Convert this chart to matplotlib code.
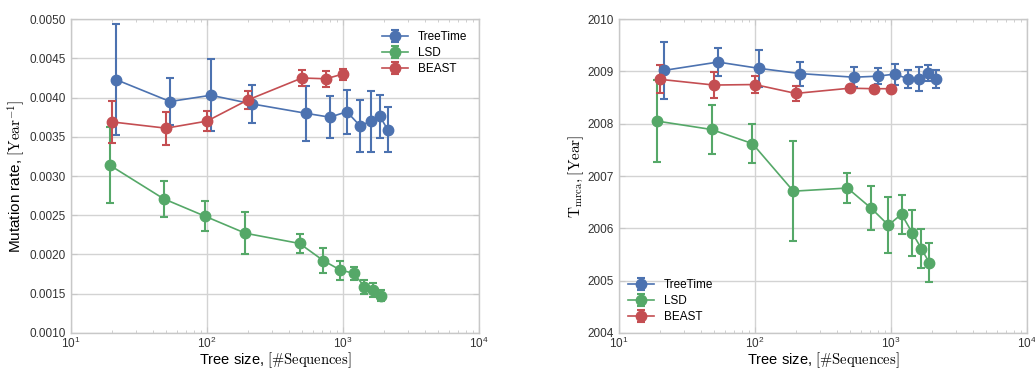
import numpy as np
import matplotlib
matplotlib.use("Agg")
import matplotlib.pyplot as plt
from matplotlib.ticker import FormatStrFormatter, LogLocator

plt.rcParams['font.family'] = ['Liberation Sans', 'DejaVu Sans']
plt.rcParams['mathtext.fontset'] = 'cm'

# tree sizes used in the benchmark
sizes_all = [20, 50, 100, 200, 500, 750, 1000, 1250, 1500, 1750, 2000]
sizes_beast = [20, 50, 100, 200, 500, 750, 1000]

# mutation rate estimates  (mean, std)
rate_treetime = [0.00423, 0.00395, 0.00403, 0.00392, 0.00380, 0.00375, 0.00382, 0.00364, 0.00370, 0.00376, 0.00359]
rate_treetime_err = [0.00071, 0.00030, 0.00046, 0.00024, 0.00035, 0.00027, 0.00028, 0.00033, 0.00039, 0.00027, 0.00029]
rate_lsd = [0.00314, 0.00271, 0.00249, 0.00227, 0.00214, 0.00192, 0.00180, 0.00176, 0.00159, 0.00155, 0.00147]
rate_lsd_err = [0.00048, 0.00023, 0.00019, 0.00027, 0.00012, 0.00016, 0.00012, 0.00008, 0.00009, 0.00009, 0.00007]
rate_beast = [0.00369, 0.00361, 0.00370, 0.00397, 0.00425, 0.00424, 0.00430]
rate_beast_err = [0.00027, 0.00021, 0.00013, 0.00012, 0.00010, 0.00010, 0.00007]

# root date estimates (mean, std)
tmrca_treetime = [2009.02, 2009.18, 2009.06, 2008.96, 2008.89, 2008.91, 2008.95, 2008.86, 2008.85, 2008.97, 2008.86]
tmrca_treetime_err = [0.54, 0.27, 0.35, 0.23, 0.19, 0.15, 0.20, 0.17, 0.23, 0.15, 0.17]
tmrca_lsd = [2008.05, 2007.89, 2007.62, 2006.71, 2006.77, 2006.38, 2006.06, 2006.27, 2005.91, 2005.61, 2005.34]
tmrca_lsd_err = [0.79, 0.47, 0.37, 0.96, 0.28, 0.42, 0.54, 0.37, 0.44, 0.37, 0.37]
tmrca_beast = [2008.85, 2008.74, 2008.75, 2008.58, 2008.68, 2008.67, 2008.67]
tmrca_beast_err = [0.27, 0.25, 0.17, 0.15, 0.05, 0.06, 0.05]

C_TT, C_LSD, C_BEAST = "#4C72B0", "#55A868", "#C44E52"
# small horizontal shift so the error bars don't overlap
SHIFT = {"TreeTime": 1.07, "LSD": 0.96, "BEAST": 1.0}


def draw(ax, series):
    for name, x, y, err, col in series:
        xs = np.array(x) * SHIFT[name]
        ax.errorbar(xs, y, yerr=err, fmt='-o', color=col, ecolor=col,
                    lw=1.2, ms=7.5, elinewidth=1.5, capsize=3, capthick=1.5,
                    label=name)
    ax.set_xscale('log')
    ax.set_xlim(10, 1e4)
    ax.xaxis.set_major_locator(LogLocator(base=10, numticks=10))
    ax.xaxis.set_minor_locator(LogLocator(base=10, subs=np.arange(2, 10), numticks=20))
    ax.grid(True, which='major', color='#d3d3d3', lw=1.0)
    ax.grid(False, which='minor')
    for s in ax.spines.values():
        s.set_color('#c8c8c8')
        s.set_linewidth(1.0)
    ax.tick_params(which='both', direction='in', top=True, right=True,
                   color='#c8c8c8', labelsize=8.5, labelcolor='#333333')
    ax.tick_params(which='major', length=4)
    ax.tick_params(which='minor', length=2)
    ax.tick_params(axis='x', pad=2)
    ax.set_xlabel(r"Tree size, $[\#\mathrm{Sequences}]$", fontsize=10.5, labelpad=0)


fig = plt.figure(figsize=(10.35, 3.69), dpi=100)
ax1 = fig.add_axes([0.0686, 0.098, 0.394, 0.850])
ax2 = fig.add_axes([0.598, 0.098, 0.394, 0.850])

draw(ax1, [
    ("TreeTime", sizes_all, rate_treetime, rate_treetime_err, C_TT),
    ("LSD", sizes_all, rate_lsd, rate_lsd_err, C_LSD),
    ("BEAST", sizes_beast, rate_beast, rate_beast_err, C_BEAST),
])
ax1.set_ylim(0.001, 0.005)
ax1.set_yticks(np.arange(0.001, 0.00501, 0.0005))
ax1.yaxis.set_major_formatter(FormatStrFormatter('%.4f'))
ax1.set_ylabel(r"Mutation rate, $[\mathrm{Year}^{-1}]$", fontsize=11, labelpad=2)
ax1.legend(loc='upper right', fontsize=8.5, frameon=False, borderaxespad=0.6,
           handlelength=2.2, labelspacing=0.35)

draw(ax2, [
    ("TreeTime", sizes_all, tmrca_treetime, tmrca_treetime_err, C_TT),
    ("LSD", sizes_all, tmrca_lsd, tmrca_lsd_err, C_LSD),
    ("BEAST", sizes_beast, tmrca_beast, tmrca_beast_err, C_BEAST),
])
ax2.set_ylim(2004, 2010)
ax2.set_yticks(np.arange(2004, 2011, 1))
ax2.yaxis.set_major_formatter(FormatStrFormatter('%d'))
ax2.set_ylabel(r"$\mathrm{T}_{\mathrm{mrca}}, [\mathrm{Year}]$", fontsize=11, labelpad=1)
ax2.legend(loc='lower left', fontsize=8.5, frameon=False, borderaxespad=0.4,
           handlelength=2.2, labelspacing=0.35)

fig.savefig("out.png", dpi=100)
